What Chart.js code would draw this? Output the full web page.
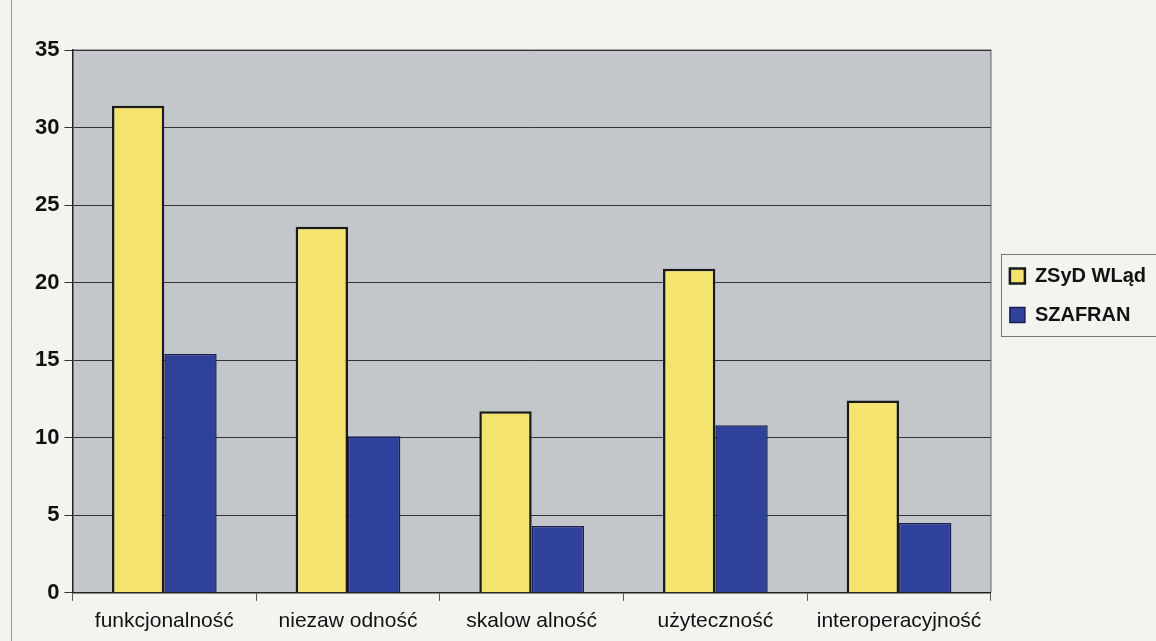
<!DOCTYPE html>
<html>
<head>
<meta charset="utf-8">
<script src="https://cdn.jsdelivr.net/npm/chart.js@4"></script>
<style>
  html, body { margin: 0; padding: 0; background: #f3f3f0; }
  #wrap { width: 1156px; height: 641px; position: relative; }
</style>
</head>
<body>
<div id="wrap"><canvas id="bar-chart"></canvas></div>
<script>
const categories = ['funkcjonalność', 'niezaw odność', 'skalow alność', 'użyteczność', 'interoperacyjność'];
const seriesNames = ['ZSyD WLąd', 'SZAFRAN'];
const zsydValues = [31.4, 23.6, 11.7, 20.9, 12.4];
const szafranValues = [15.4, 10.1, 4.3, 10.8, 4.5];
const yTicks = [0, 5, 10, 15, 20, 25, 30, 35];

const barCtx = document.getElementById('bar-chart');

// grey plot background + thin frame, like the Excel original
const plotBackground = {
    id: 'plotBackground',
    beforeDraw(chart) {
        const { ctx, chartArea: a } = chart;
        ctx.save();
        ctx.strokeStyle = '#9a9a9a';
        ctx.lineWidth = 1;
        ctx.beginPath();
        ctx.moveTo(11.5, 0);
        ctx.lineTo(11.5, chart.height);
        ctx.stroke();
        ctx.fillStyle = '#c3c7cb';
        ctx.fillRect(a.left, a.top, a.right - a.left, a.bottom - a.top);
        ctx.strokeStyle = '#8a8a8a';
        ctx.lineWidth = 1.5;
        ctx.beginPath();
        ctx.moveTo(a.left, a.top);
        ctx.lineTo(a.right, a.top);
        ctx.lineTo(a.right, a.bottom);
        ctx.stroke();
        ctx.restore();
    }
};

// box around the legend items
const legendFrame = {
    id: 'legendFrame',
    afterDraw(chart) {
        const boxes = chart.legend.legendHitBoxes;
        if (!boxes || !boxes.length) return;
        const first = boxes[0], last = boxes[boxes.length - 1];
        const ctx = chart.ctx;
        const left = first.left - 9;
        const top = first.top - 12;
        const bottom = last.top + last.height + 11;
        ctx.save();
        ctx.strokeStyle = '#777';
        ctx.lineWidth = 1;
        ctx.strokeRect(Math.round(left) + 0.5, Math.round(top) + 0.5, chart.width, Math.round(bottom - top));
        ctx.restore();
    }
};

new Chart(barCtx, {
    type: 'bar',
    data: {
        labels: categories,
        datasets: [{
            label: seriesNames[0],
            data: zsydValues,
            backgroundColor: '#f4e46f',
            borderColor: '#1a1a1a',
            borderWidth: 2.5,
            barPercentage: 1,
            categoryPercentage: 0.57
        }, {
            label: seriesNames[1],
            data: szafranValues,
            backgroundColor: '#30419b',
            borderColor: '#17204f',
            borderWidth: 1.5,
            barPercentage: 1,
            categoryPercentage: 0.57
        }]
    },
    options: {
        responsive: true,
        maintainAspectRatio: false,
        animation: false,
        layout: {
            padding: { top: 50, left: 30, right: 0, bottom: -1 }
        },
        scales: {
            x: {
                grid: {
                    drawOnChartArea: false,
                    drawTicks: true,
                    tickLength: 8,
                    color: '#555'
                },
                border: { color: '#222', width: 1.5 },
                ticks: {
                    color: '#111',
                    padding: 8,
                    font: { family: 'Liberation Sans, Arial', size: 21 }
                }
            },
            y: {
                min: 0,
                max: 35,
                afterBuildTicks(axis) {
                    axis.ticks = yTicks.map(v => ({ value: v }));
                },
                grid: {
                    color: '#333',
                    lineWidth: 1,
                    tickLength: 8
                },
                border: { color: '#222', width: 1.5 },
                ticks: {
                    color: '#111',
                    padding: 5,
                    font: { family: 'Liberation Sans, Arial', size: 22, weight: 'bold' }
                }
            }
        },
        plugins: {
            legend: {
                position: 'right',
                align: 'start',
                title: {
                    display: true,
                    text: ' ',
                    font: { size: 10 },
                    padding: { top: 185, bottom: 0 }
                },
                labels: {
                    color: '#111',
                    boxWidth: 15,
                    boxHeight: 15,
                    padding: 19,
                    font: { family: 'Liberation Sans, Arial', size: 20, weight: 'bold' }
                }
            },
            tooltip: { enabled: false }
        }
    },
    plugins: [plotBackground, legendFrame]
});
</script>
</body>
</html>
